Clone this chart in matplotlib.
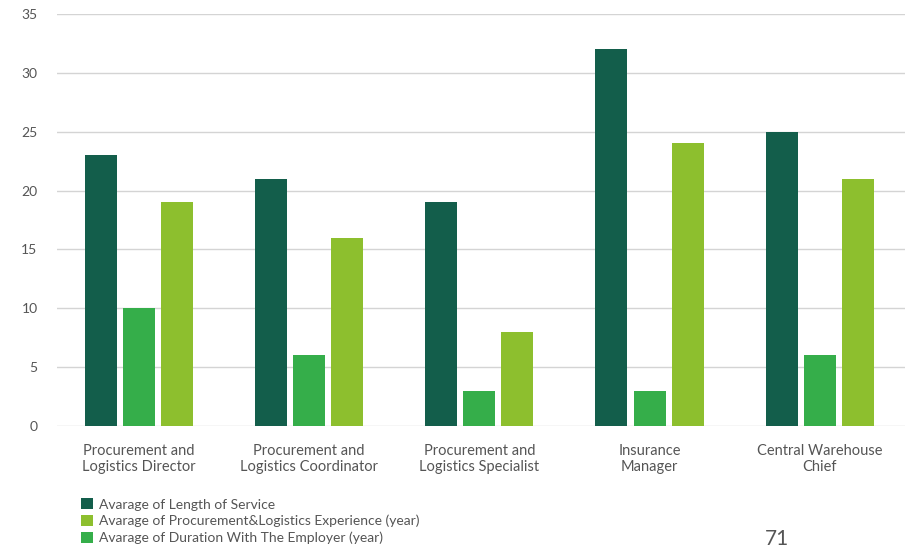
import matplotlib

matplotlib.use("Agg")
import matplotlib.pyplot as plt
import numpy as np

plt.rcParams["font.family"] = ["Lato", "DejaVu Sans"]

categories = [
    "Procurement and\nLogistics Director",
    "Procurement and\nLogistics Coordinator",
    "Procurement and\nLogistics Specialist",
    "Insurance\nManager",
    "Central Warehouse\nChief",
]
length_of_service = [23, 21, 19, 32, 25]
duration_with_employer = [10, 6, 3, 3, 6]
procurement_experience = [19, 16, 8, 24, 21]

DARK = "#135e4b"
MID = "#35ae4a"
LIGHT = "#8dbf2e"
GRID = "#d4d4d4"
TEXT = "#555555"

fig = plt.figure(figsize=(9.15, 5.5), dpi=100)
ax = fig.add_axes([0.0623, 0.2255, 0.9267, 0.749])

x = np.arange(len(categories))
w = 0.188
step = 0.2235

b1 = ax.bar(x - step, length_of_service, w, color=DARK, zorder=3)
b3 = ax.bar(x, duration_with_employer, w, color=MID, zorder=3)
b2 = ax.bar(x + step, procurement_experience, w, color=LIGHT, zorder=3)

ax.set_xlim(-0.48, 4.5)
ax.set_ylim(0, 35)
ax.set_yticks(range(0, 36, 5))
ax.yaxis.grid(True, color=GRID, linewidth=1)
ax.set_axisbelow(True)
for s in ax.spines.values():
    s.set_visible(False)
ax.tick_params(axis="y", length=0, pad=14, labelsize=10, labelcolor=TEXT)
ax.tick_params(axis="x", length=0, pad=13, labelsize=10.5, labelcolor=TEXT)
ax.set_xticks(x)
ax.set_xticklabels(categories, linespacing=1.15)

fig.legend(
    [b1, b2, b3],
    [
        "Avarage of Length of Service",
        "Avarage of Procurement&Logistics Experience (year)",
        "Avarage of Duration With The Employer (year)",
    ],
    loc="upper left",
    bbox_to_anchor=(0.089, 0.094),
    frameon=False,
    fontsize=10,
    labelcolor=TEXT,
    handlelength=0.85,
    handleheight=0.85,
    handletextpad=0.45,
    labelspacing=0.3,
    borderaxespad=0,
    borderpad=0,
)

fig.text(0.836, 0.002, "71", fontsize=15, color=TEXT, ha="left", va="bottom")

fig.savefig("out.png", dpi=100)
